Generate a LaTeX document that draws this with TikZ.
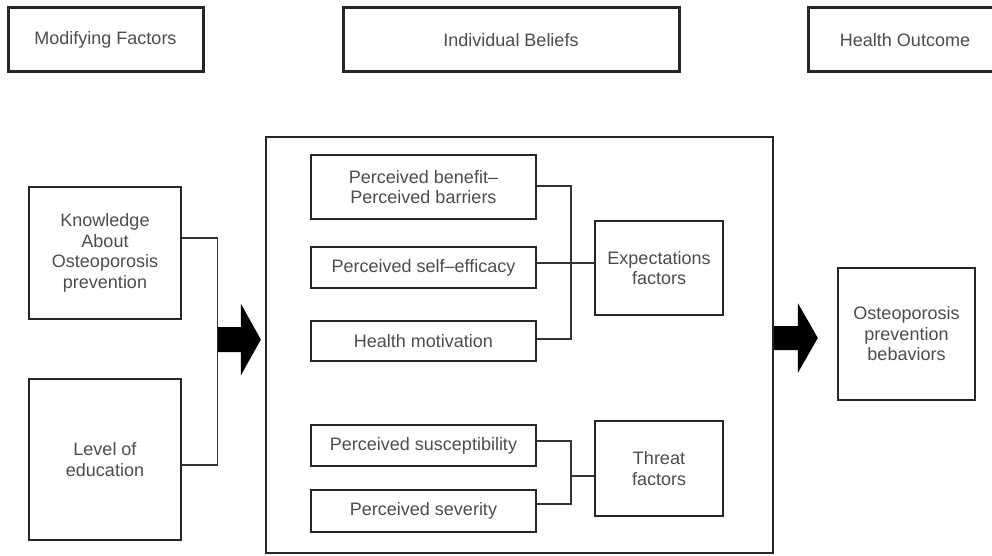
\documentclass[tikz,border=0pt]{standalone}
\usepackage{fontspec}
\setmainfont{Liberation Sans}

\tikzset{
    box/.style={draw=black!85, line width=1.6pt, align=center, text=black!70,
        inner sep=0pt, font=\fontsize{18}{20.5}\selectfont},
    headbox/.style={box, line width=3pt, minimum height=64pt},
    link/.style={draw=black!80, line width=1.1pt}
}

\begin{document}
\begin{tikzpicture}[x=1pt, y=-1pt]
    \useasboundingbox (0,0) rectangle (992,556);

    % Headings
    \node[headbox, minimum width=195pt] (modif) at (105.5,40) {Modifying Factors};
    \node[headbox, minimum width=336pt] (indiv) at (511,40) {Individual Beliefs};
    \begin{scope}
        \clip (0,0) rectangle (992,556);
        \node[headbox, minimum width=194pt] (hout) at (905,40) {Health Outcome};
    \end{scope}

    % Modifying factors
    \node[box, minimum width=152pt, minimum height=132pt] (know) at (105,253)
        {Knowledge\\About\\Osteoporosis\\prevention};
    \node[box, minimum width=152pt, minimum height=161pt] (edu) at (105,459.5)
        {Level of\\education};
    \draw[link] ([yshift=15pt]know.east) -- ++(36,0) coordinate (lbus)
        |- ([yshift=-5.5pt]edu.east);

    % Individual beliefs
    \node[box, minimum width=507pt, minimum height=416pt] (beliefs) at (519.5,345) {};
    \node[box, minimum width=225pt, minimum height=64pt] (benefit) at (423.5,187)
        {Perceived benefit--\\Perceived barriers};
    \node[box, minimum width=225pt, minimum height=41pt] (selfeff) at (423.5,267.5)
        {Perceived self--efficacy};
    \node[box, minimum width=225pt, minimum height=40pt] (motiv) at (423.5,341)
        {Health motivation};
    \node[box, minimum width=128pt, minimum height=94pt] (expect) at (659,268)
        {Expectations\\factors};
    \node[box, minimum width=225pt, minimum height=41pt] (suscep) at (423.5,445.5)
        {Perceived susceptibility};
    \node[box, minimum width=225pt, minimum height=42pt] (sever) at (423.5,511)
        {Perceived severity};
    \node[box, minimum width=128pt, minimum height=95pt] (threat) at (659,468.5)
        {Threat\\factors};

    \coordinate (ebus) at (571,0);
    \draw[link] ([yshift=1pt]benefit.east) -| (ebus |- 0,339)
        -- ([yshift=2pt]motiv.east);
    \draw[link] ([yshift=4.5pt]selfeff.east) -- ([yshift=5pt]expect.west);
    \draw[link] ([yshift=4.5pt]suscep.east) -| (ebus |- 0,504)
        -- ([yshift=7pt]sever.east);
    \draw[link] (ebus |- 0,476) -- ([yshift=-7.5pt]threat.west);

    % Health outcome
    \node[box, minimum width=137pt, minimum height=132pt] (behav) at (906.5,334)
        {Osteoporosis\\prevention\\bebaviors};

    % Block arrows
    \fill[black] (lbus |- 0,339.5) ++(0,-12.5) -- ++(23,0) -- ++(0,-23.5)
        -- ++(20,36) -- ++(-20,36) -- ++(0,-23.5) -- ++(-23,0) -- cycle;
    \coordinate (rtail) at (beliefs.east |- 0,338);
    \fill[black] (rtail) ++(0,-12) -- ++(24,0) -- ++(0,-23)
        -- ++(20,35) -- ++(-20,35) -- ++(0,-23) -- ++(-24,0) -- cycle;
\end{tikzpicture}
\end{document}
